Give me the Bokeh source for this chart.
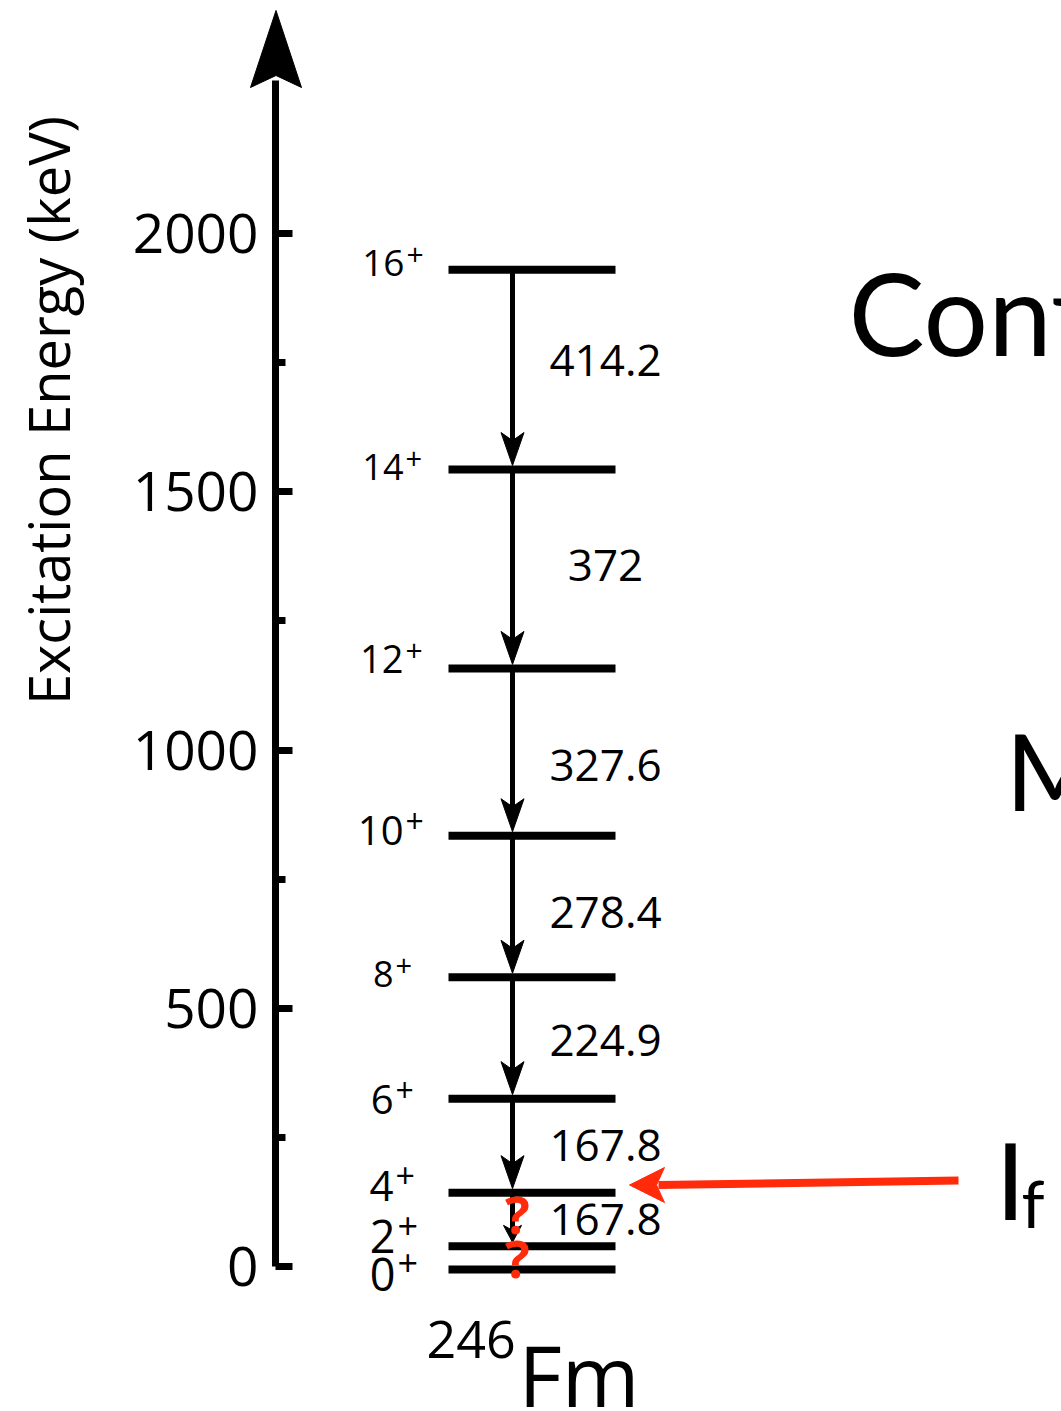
import math
from bokeh.plotting import figure
from bokeh.models import Range1d, FixedTicker, LinearAxis, ColumnDataSource
from bokeh.core.properties import value
from bokeh.embed import file_html
from bokeh.resources import INLINE

# ---------------- data ----------------
spins = ["16", "14", "12", "10", "8", "6", "4", "2", "0"]
parities = ["+", "+", "+", "+", "+", "+", "+", "+", "+"]
level_energy = [1930, 1543, 1158, 834, 560, 325, 143, 39, -6]          # keV
gamma_labels = ["414.2", "372", "327.6", "278.4", "224.9", "167.8", "167.8"]
uncertain_levels = ["2", "0"]          # levels whose feeding is marked with "?"
major_ticks = [0, 500, 1000, 1500, 2000]
minor_ticks = [250, 750, 1250, 1750]
axis_title = "Excitation Energy (keV)"
mass_number = "246"
element = "Fm"
side_texts = ["Conf", "M", "I"]
side_sub = "f"

# ---------------- layout / style ----------------
W, H = 1061, 1411
AXIS_X = 275
Y0_PX = 1266.0                 # pixel row of 0 keV
S = 1033.0 / 2000.0            # pixels per keV
RED = "#ff2b0a"
FONT = "Open Sans"
BIG_FONT = "Lato"

def px_of(e):
    return Y0_PX - e * S

def e_of(py):
    return (Y0_PX - py) / S

p = figure(width=W, height=H, title=None,
           x_range=Range1d(0, W), y_range=Range1d(e_of(H), e_of(0)),
           output_backend="svg", toolbar_location=None,
           x_axis_location=None, y_axis_location=None,
           min_border_left=0, min_border_right=0,
           min_border_top=0, min_border_bottom=0)
p.outline_line_color = None
p.grid.visible = False
p.background_fill_color = "white"
p.border_fill_color = "white"

# ---------------- y axis (placed inside the frame at x = AXIS_X) ----------------
ax = LinearAxis(fixed_location=AXIS_X)
ax.ticker = FixedTicker(ticks=major_ticks, minor_ticks=minor_ticks)
ax.bounds = (0, e_of(80))
ax.axis_line_width = 7
ax.axis_line_color = "black"
ax.major_tick_line_width = 7
ax.minor_tick_line_width = 7
ax.major_tick_line_color = "black"
ax.minor_tick_line_color = "black"
ax.major_tick_in = 17
ax.major_tick_out = 0
ax.minor_tick_in = 10
ax.minor_tick_out = 0
ax.major_label_text_font = FONT
ax.major_label_text_font_size = "55px"
ax.major_label_text_color = "black"
ax.major_label_standoff = 17
p.add_layout(ax, "left")

# axis arrow head
ah_tip, ah_back, ah_notch, ah_half = 10, 87, 75, 25.5
cx = AXIS_X + 0.5
p.patch(x=[cx, cx + ah_half, cx, cx - ah_half],
        y=[e_of(ah_tip), e_of(ah_back), e_of(ah_notch), e_of(ah_back)],
        fill_color="black", line_color="black", line_width=1)

# axis title
p.text(x=[47], y=[e_of(410)], text=[axis_title], angle=math.pi / 2,
       text_align="center", text_baseline="middle",
       text_font=value(FONT), text_font_size="56px", text_color="black")

# ---------------- levels ----------------
LX0, LX1 = 448, 615
lev = ColumnDataSource(dict(y=level_energy))
p.segment(x0=LX0, x1=LX1, y0="y", y1="y", source=lev,
          line_width=8, line_color="black", line_cap="butt")

# ---------------- transitions ----------------
AX_X = 512
n_tr = len(gamma_labels)
seg_x, seg_y0, seg_y1, head_xs, head_ys = [], [], [], [], []
for i in range(n_tr):
    up, lo = level_energy[i], level_energy[i + 1]
    small = i == n_tr - 1
    hl, hw, nt = (17, 18, 5) if small else (33, 23, 8)
    tip = px_of(lo) - 4
    seg_x.append(AX_X)
    seg_y0.append(up)
    seg_y1.append(e_of(tip - hl + nt + 2))
    head_xs.append([AX_X, AX_X + hw / 2, AX_X, AX_X - hw / 2])
    head_ys.append([e_of(tip), e_of(tip - hl), e_of(tip - hl + nt), e_of(tip - hl)])
p.segment(x0=seg_x, x1=seg_x, y0=seg_y0, y1=seg_y1, line_width=5, line_color="black")
p.patches(xs=head_xs, ys=head_ys, fill_color="black", line_color="black", line_width=1)

# gamma energy labels
g_dy = [-9, -3, 13, 6, 3, 0, 0]
g_y = [e_of((px_of(level_energy[i]) + px_of(level_energy[i + 1])) / 2 + g_dy[i]) for i in range(n_tr)]
p.text(x=[605] * n_tr, y=g_y, text=gamma_labels, text_align="center", text_baseline="middle",
       text_font=value(FONT), text_font_size="44px", text_color="black")

# spin labels (digit centre offset from the level line, px)
fs = [37, 36, 38, 40, 36, 40, 42, 45, 45]
c_dy = [-6.5, -2.5, -9, -5, -3, 1, -7, -9.5, 4.5]
xr = [404, 403, 403, 403, 393, 393, 393, 395, 395]
d_y, p_x, p_y, d_fs, p_fs = [], [], [], [], []
for i, s in enumerate(spins):
    c = px_of(level_energy[i]) + c_dy[i]
    d_y.append(e_of(c))
    pf = 0.8 * fs[i]
    p_fs.append(f"{pf:.0f}px")
    d_fs.append(f"{fs[i]}px")
    p_x.append(xr[i] + 2)
    p_y.append(e_of(c - 0.24 * fs[i]))
p.text(x=xr, y=d_y, text=spins, text_align="right", text_baseline="middle",
       text_font=value(FONT), text_font_size=d_fs, text_color="black")
p.text(x=p_x, y=p_y, text=parities, text_align="left", text_baseline="middle",
       text_font=value(FONT), text_font_size=p_fs, text_color="black")

# red question marks on the uncertain low-lying transitions
q_y = []
q_dy = [-6, 0]
for k, s in enumerate(uncertain_levels):
    j = spins.index(s)
    mid = (px_of(level_energy[j - 1]) + px_of(level_energy[j])) / 2
    q_y.append(e_of(mid + q_dy[k]))
p.text(x=[517, 517], y=q_y, text=["?", "?"], text_align="center", text_baseline="middle",
       text_font=value(FONT), text_font_size="52px", text_font_style="bold", text_color=RED)

# nucleus name
p.text(x=[426], y=[e_of(1339)], text=[mass_number], text_align="left", text_baseline="middle",
       text_font=value(FONT), text_font_size="52px", text_color="black")
p.text(x=[518], y=[e_of(1374)], text=[element], text_align="left", text_baseline="middle",
       text_font=value(FONT), text_font_size="84px", text_color="black")

# side texts (cut by the page edge, as in the original)
p.text(x=[848, 1005, 995], y=[e_of(311), e_of(769), e_of(1178)], text=side_texts,
       text_align="left", text_baseline="middle",
       text_font=value(BIG_FONT), text_font_size=["114px", "106px", "107px"], text_color="black")
p.text(x=[1021], y=[e_of(1202)], text=[side_sub], text_align="left", text_baseline="middle",
       text_font=value(BIG_FONT), text_font_size="66px", text_color="black")

# red arrow pointing to the 4+ level
r_start = (958, 1180)
r_tip = (629, 1184.5)
r_len, r_half, r_notch = 35, 17.5, 8
p.segment(x0=[r_start[0]], y0=[e_of(r_start[1])], x1=[r_tip[0] + r_len - r_notch + 2],
          y1=[e_of(r_tip[1])], line_width=8, line_color=RED)
p.patch(x=[r_tip[0], r_tip[0] + r_len, r_tip[0] + r_len - r_notch, r_tip[0] + r_len],
        y=[e_of(r_tip[1]), e_of(r_tip[1] - r_half), e_of(r_tip[1]), e_of(r_tip[1] + r_half)],
        fill_color=RED, line_color=RED, line_width=1)

open("out.html", "w").write(file_html(p, INLINE))
